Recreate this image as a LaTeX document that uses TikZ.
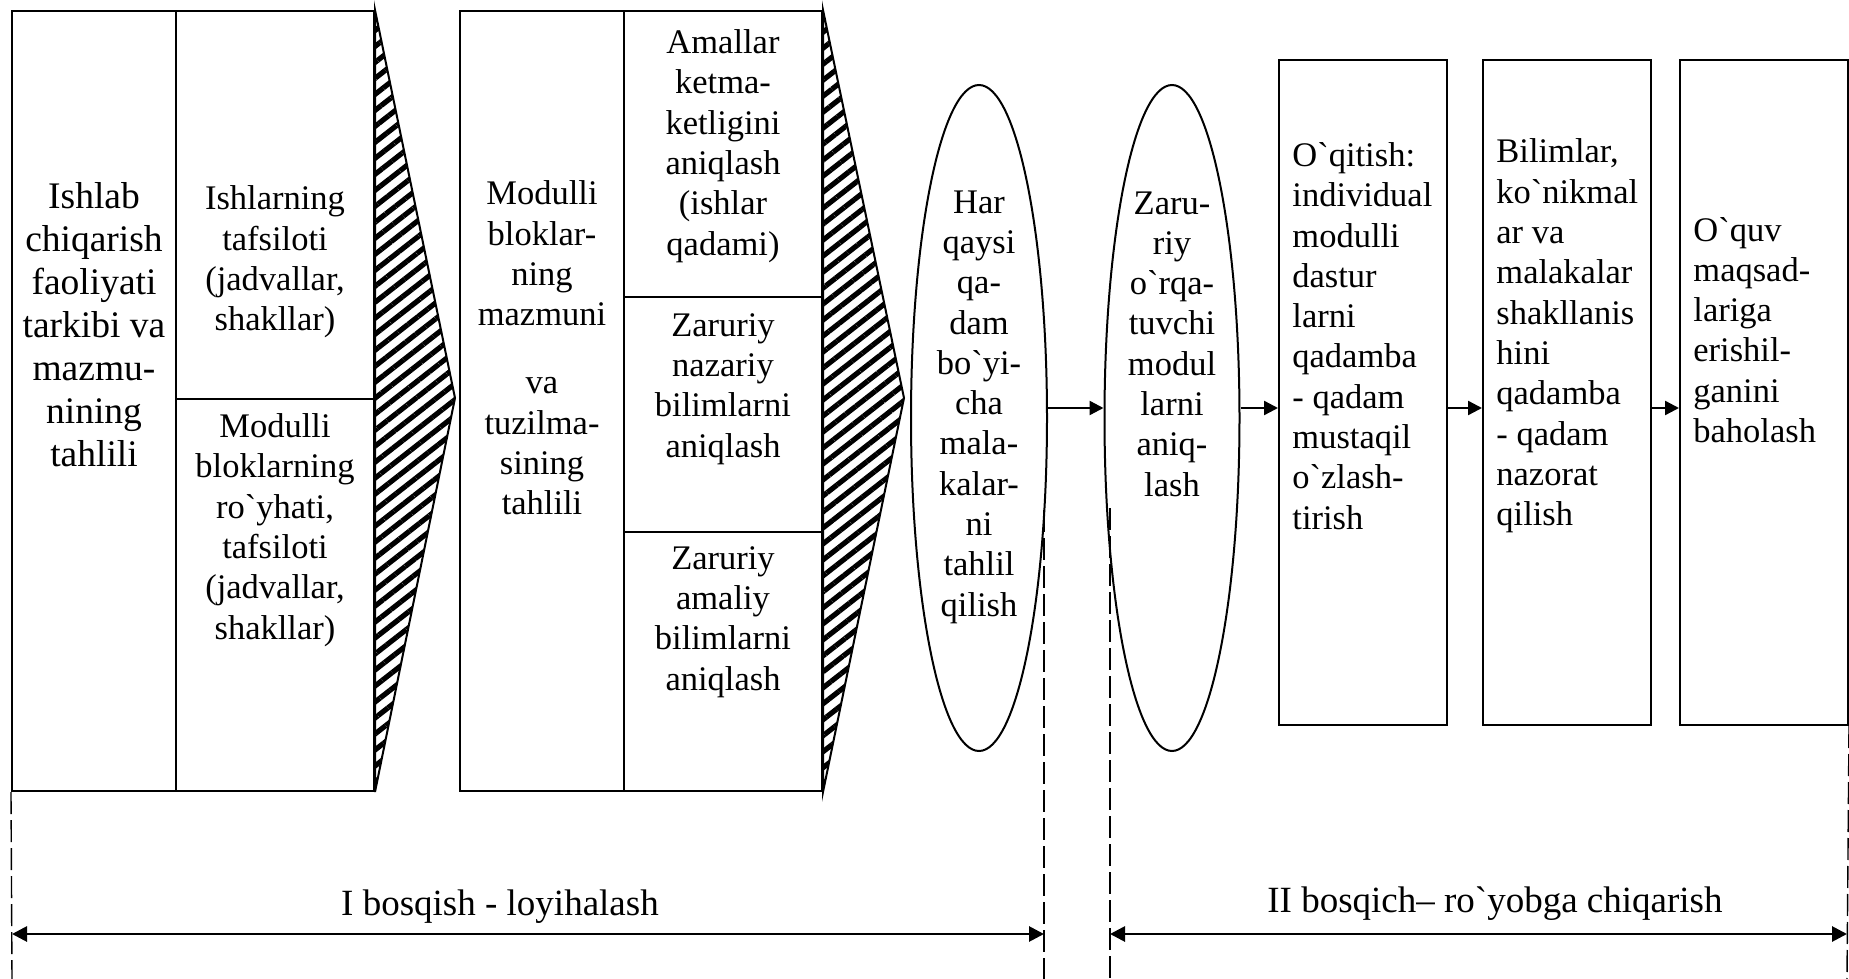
\documentclass[tikz,border=0pt]{standalone}
\usepackage{fontspec}
\setmainfont{Liberation Serif}[Ligatures=TeXOff]
\usetikzlibrary{shapes.geometric,patterns.meta,arrows.meta,fit}

\tikzset{
  box/.style={draw,line width=1pt,inner sep=0pt},
  oval/.style={draw,ellipse,line width=1pt,inner sep=0pt},
  txt/.style={align=center,inner sep=0pt,font=\fontsize{17.25}{20.15}\selectfont},
  bigtxt/.style={txt,font=\fontsize{18.75}{21.5}\selectfont},
  ltxt/.style={txt,align=left,anchor=west},
  hatch/.style={draw,line width=1pt,pattern={Lines[angle=38,distance=6.3pt,line width=2.6pt]}},
  arr/.style={line width=1.2pt,-{Triangle[length=7pt,width=7pt]}},
  stage/.style={line width=1.4pt,{Triangle[length=7.5pt,width=7.5pt]}-{Triangle[length=7.5pt,width=7.5pt]}},
  guide/.style={line width=0.7pt,dash pattern=on 11pt off 3pt}
}

\newcommand{\myBox}[5]{
    \node[box,fit={(#2,#3) (#4,#5)}] (#1) {};
}

\begin{document}
\begin{tikzpicture}[x=0.5pt,y=-0.5pt]
  \useasboundingbox (0,0) rectangle (1849,979);

  % I bosqich
  \myBox{tahlil}{12}{11}{176}{791}
  \myBox{jadval}{176}{11}{374}{399}
  \myBox{royhat}{176}{399}{374}{791}
  \myBox{modul}{460}{11}{624}{791}
  \myBox{amal}{624}{11}{822}{297}
  \myBox{nazar}{624}{297}{822}{532}
  \myBox{amaliy}{624}{532}{822}{791}

  \coordinate (tipA) at (455,398);
  \coordinate (tipB) at (904,398);
  \draw[hatch] (jadval.north east) -- (tipA) -- (royhat.south east) -- cycle;
  \draw[hatch] (amal.north east) -- (tipB) -- (amaliy.south east) -- cycle;

  \node[bigtxt] (tahlilT) at (94,325) {Ishlab\\chiqarish\\faoliyati\\tarkibi va\\mazmu-\\nining\\tahlili};
  \node[txt] (jadvalT) at (275,262) {Ishlarning\\tafsiloti\\(jadvallar,\\shakllar)};
  \node[txt] (royhatT) at (275,530) {Modulli\\bloklarning\\ro`yhati,\\tafsiloti\\(jadvallar,\\shakllar)};
  \node[txt] (modulT) at (542,348) {Modulli\\bloklar-\\ning\\mazmuni\\[14pt]va\\tuzilma-\\sining\\tahlili};
  \node[txt] (amalT) at (723,146) {Amallar\\ketma-\\ketligini\\aniqlash\\(ishlar\\qadami)};
  \node[txt] (nazarT) at (723,389) {Zaruriy\\nazariy\\bilimlarni\\aniqlash};
  \node[txt] (amaliyT) at (723,622) {Zaruriy\\amaliy\\bilimlarni\\aniqlash};

  % ovals
  \node[oval,minimum width=136*0.5pt,minimum height=666*0.5pt] (qadam) at (979,418) {};
  \node[oval,minimum width=135*0.5pt,minimum height=666*0.5pt] (orqa) at (1172,418) {};
  \node[txt] (qadamT) at (979,407) {Har\\qaysi\\qa-\\dam\\bo`yi-\\cha\\mala-\\kalar-\\ni\\tahlil\\qilish};
  \node[txt] (orqaT) at (1172,344) {Zaru-\\riy\\o`rqa-\\tuvchi\\modul\\larni\\aniq-\\lash};

  % II bosqich
  \myBox{oqit}{1279}{60}{1447}{725}
  \myBox{bilim}{1483}{60}{1651}{725}
  \myBox{baho}{1680}{60}{1848}{725}
  \node[ltxt] (oqitT) at (1292,336) {O`qitish:\\individual\\modulli\\dastur\\larni\\qadamba\\- qadam\\mustaqil\\o`zlash-\\tirish};
  \node[ltxt] (bilimT) at (1496,336) {Bilimlar,\\ko`nikmal\\ar va\\malakalar\\shakllanis\\hini\\qadamba\\- qadam\\nazorat\\qilish};
  \node[ltxt] (bahoT) at (1693,330) {O`quv\\maqsad-\\lariga\\erishil-\\ganini\\baholash};

  \coordinate (lvl) at (0,408);
  \draw[arr] (qadam.east |- lvl) -- (orqa.west |- lvl);
  \draw[arr] (orqa.east |- lvl) -- (oqit.west |- lvl);
  \draw[arr] (oqit.east |- lvl) -- (bilim.west |- lvl);
  \draw[arr] (bilim.east |- lvl) -- (baho.west |- lvl);

  % stages
  \coordinate (g1) at (12,979);
  \coordinate (g2) at (1044,510);
  \coordinate (g3) at (1110,508);
  \coordinate (g4) at (1847,979);
  \coordinate (g2b) at (1044,979);
  \coordinate (g3b) at (1110,979);
  \draw[guide] (tahlil.south west) -- (g1);
  \draw[guide] (g2) -- (g2b);
  \draw[guide] (g3) -- (g3b);
  \draw[guide] (baho.south east) -- (g4);

  \coordinate (s1) at (0,934);
  \draw[stage] (g1 |- s1) -- (g2 |- s1);
  \draw[stage] (g3 |- s1) -- (g4 |- s1);
  \node[txt,font=\fontsize{18.5}{21}\selectfont] (bosqich1) at (500,907) {I bosqish - loyihalash};
  \node[txt,font=\fontsize{18.5}{21}\selectfont] (bosqich2) at (1495,904) {II bosqich– ro`yobga chiqarish};
\end{tikzpicture}
\end{document}
